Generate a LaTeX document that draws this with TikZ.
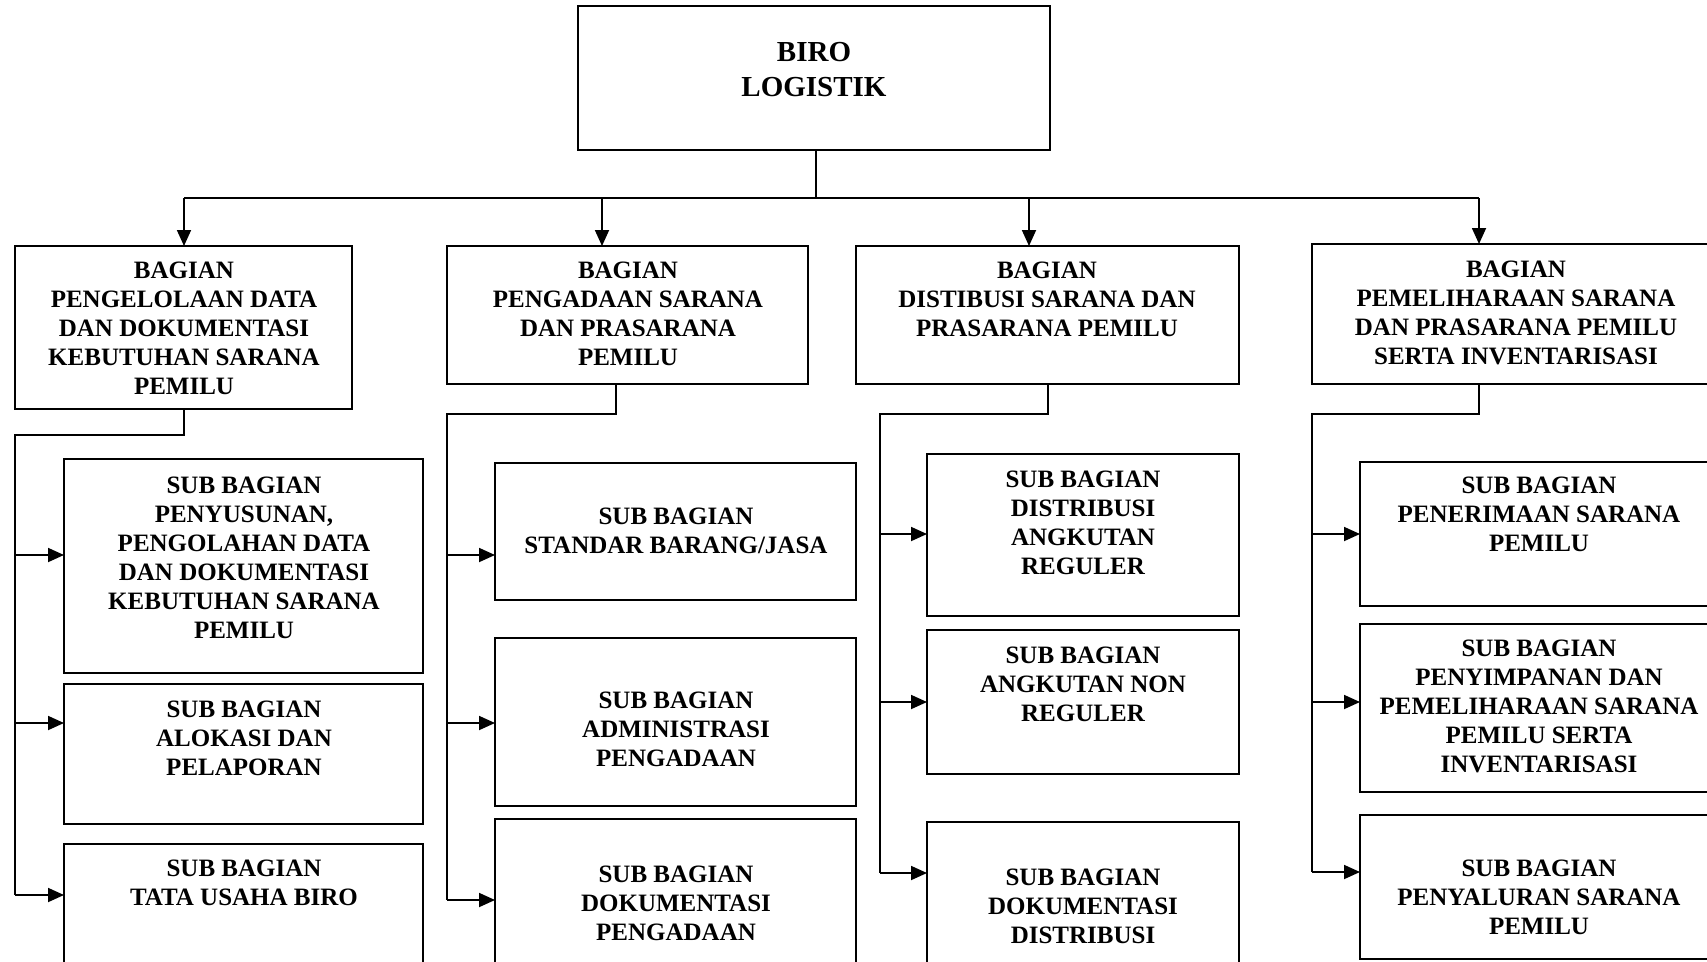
\documentclass[tikz,border=0pt]{standalone}
\usepackage{fontspec}
\setmainfont{Liberation Serif}
\usetikzlibrary{arrows.meta}
\begin{document}
\begin{tikzpicture}[x=1pt,y=-1pt,
  box/.style={draw, line width=1.8pt, rectangle, inner sep=0pt, outer sep=0pt, anchor=north west},
  txt/.style={align=center, inner sep=0pt, anchor=north, font=\bfseries\fontsize{25}{29}\selectfont},
  bigtxt/.style={align=center, inner sep=0pt, anchor=north, font=\bfseries\fontsize{29}{35}\selectfont},
  conn/.style={line width=1.8pt},
  arr/.style={line width=1.8pt, -{Triangle[length=16pt,width=14pt]}}]
\useasboundingbox (0,0) rectangle (1707,961);
\clip (0,0) rectangle (1707,961);
\fill[white] (0,0) rectangle (1707,961);

% boxes
\node[box, minimum width=472pt, minimum height=144pt] (top) at (578,6) {};
\node[box, minimum width=337pt, minimum height=163pt] (b1) at (15,246) {};
\node[box, minimum width=361pt, minimum height=138pt] (b2) at (447,246) {};
\node[box, minimum width=383pt, minimum height=138pt] (b3) at (856,246) {};
\node[box, minimum width=408pt, minimum height=140pt] (b4) at (1312,244) {};

\node[box, minimum width=359pt, minimum height=214pt] (c1a) at (64,459) {};
\node[box, minimum width=359pt, minimum height=140pt] (c1b) at (64,684) {};
\node[box, minimum width=359pt, minimum height=136pt] (c1c) at (64,844) {};

\node[box, minimum width=361pt, minimum height=137pt] (c2a) at (495,463) {};
\node[box, minimum width=361pt, minimum height=168pt] (c2b) at (495,638) {};
\node[box, minimum width=361pt, minimum height=161pt] (c2c) at (495,819) {};

\node[box, minimum width=312pt, minimum height=162pt] (c3a) at (927,454) {};
\node[box, minimum width=312pt, minimum height=144pt] (c3b) at (927,630) {};
\node[box, minimum width=312pt, minimum height=158pt] (c3c) at (927,822) {};

\node[box, minimum width=360pt, minimum height=144pt] (c4a) at (1360,462) {};
\node[box, minimum width=360pt, minimum height=168pt] (c4b) at (1360,624) {};
\node[box, minimum width=360pt, minimum height=144pt] (c4c) at (1360,815) {};

% texts
\node[bigtxt] (topt) at (814,42) {BIRO\\LOGISTIK};
\node[txt] (b1t) at (184,262) {BAGIAN\\PENGELOLAAN DATA\\DAN DOKUMENTASI\\KEBUTUHAN SARANA\\PEMILU};
\node[txt] (b2t) at (628,262) {BAGIAN\\PENGADAAN SARANA\\DAN PRASARANA\\PEMILU};
\node[txt] (b3t) at (1047,262) {BAGIAN\\DISTIBUSI SARANA DAN\\PRASARANA PEMILU};
\node[txt] (b4t) at (1516,261) {BAGIAN\\PEMELIHARAAN SARANA\\DAN PRASARANA PEMILU\\SERTA INVENTARISASI};

\node[txt] (c1at) at (244,477) {SUB BAGIAN\\PENYUSUNAN,\\PENGOLAHAN DATA\\DAN DOKUMENTASI\\KEBUTUHAN SARANA\\PEMILU};
\node[txt] (c1bt) at (244,701) {SUB BAGIAN\\ALOKASI DAN\\PELAPORAN};
\node[txt] (c1ct) at (244,860) {SUB BAGIAN\\TATA USAHA BIRO};

\node[txt] (c2at) at (676,508) {SUB BAGIAN\\STANDAR BARANG/JASA};
\node[txt] (c2bt) at (676,692) {SUB BAGIAN\\ADMINISTRASI\\PENGADAAN};
\node[txt] (c2ct) at (676,866) {SUB BAGIAN\\DOKUMENTASI\\PENGADAAN};

\node[txt] (c3at) at (1083,471) {SUB BAGIAN\\DISTRIBUSI\\ANGKUTAN\\REGULER};
\node[txt] (c3bt) at (1083,647) {SUB BAGIAN\\ANGKUTAN NON\\REGULER};
\node[txt] (c3ct) at (1083,869) {SUB BAGIAN\\DOKUMENTASI\\DISTRIBUSI};

\node[txt] (c4at) at (1539,477) {SUB BAGIAN\\PENERIMAAN SARANA\\PEMILU};
\node[txt] (c4bt) at (1539,640) {SUB BAGIAN\\PENYIMPANAN DAN\\PEMELIHARAAN SARANA\\PEMILU SERTA\\INVENTARISASI};
\node[txt] (c4ct) at (1539,860) {SUB BAGIAN\\PENYALURAN SARANA\\PEMILU};

% top connectors
\coordinate (bus) at (816,198);
\coordinate (d1) at (184,198);
\coordinate (d2) at (602,198);
\coordinate (d3) at (1029,198);
\coordinate (d4) at (1479,198);
\draw[conn] (top.south -| bus) -- (bus);
\draw[conn] (d1) -- (d4);
\draw[arr] (d1) -- (d1 |- b1.north);
\draw[arr] (d2) -- (d2 |- b2.north);
\draw[arr] (d3) -- (d3 |- b3.north);
\draw[arr] (d4) -- (d4 |- b4.north);

% column 1
\coordinate (k1) at (184,435);
\coordinate (t1) at (15,435);
\coordinate (a11) at (15,555);
\coordinate (a12) at (15,723);
\coordinate (a13) at (15,895);
\draw[conn] (b1.south -| k1) -- (k1) -- (t1) -- (a13);
\draw[arr] (a11) -- (a11 -| c1a.west);
\draw[arr] (a12) -- (a12 -| c1b.west);
\draw[arr] (a13) -- (a13 -| c1c.west);

% column 2
\coordinate (k2) at (616,414);
\coordinate (t2) at (447,414);
\coordinate (a21) at (447,555);
\coordinate (a22) at (447,723);
\coordinate (a23) at (447,900);
\draw[conn] (b2.south -| k2) -- (k2) -- (t2) -- (a23);
\draw[arr] (a21) -- (a21 -| c2a.west);
\draw[arr] (a22) -- (a22 -| c2b.west);
\draw[arr] (a23) -- (a23 -| c2c.west);

% column 3
\coordinate (k3) at (1048,414);
\coordinate (t3) at (880,414);
\coordinate (a31) at (880,534);
\coordinate (a32) at (880,702);
\coordinate (a33) at (880,873);
\draw[conn] (b3.south -| k3) -- (k3) -- (t3) -- (a33);
\draw[arr] (a31) -- (a31 -| c3a.west);
\draw[arr] (a32) -- (a32 -| c3b.west);
\draw[arr] (a33) -- (a33 -| c3c.west);

% column 4
\coordinate (k4) at (1479,414);
\coordinate (t4) at (1312,414);
\coordinate (a41) at (1312,534);
\coordinate (a42) at (1312,702);
\coordinate (a43) at (1312,872);
\draw[conn] (b4.south -| k4) -- (k4) -- (t4) -- (a43);
\draw[arr] (a41) -- (a41 -| c4a.west);
\draw[arr] (a42) -- (a42 -| c4b.west);
\draw[arr] (a43) -- (a43 -| c4c.west);
\end{tikzpicture}
\end{document}
